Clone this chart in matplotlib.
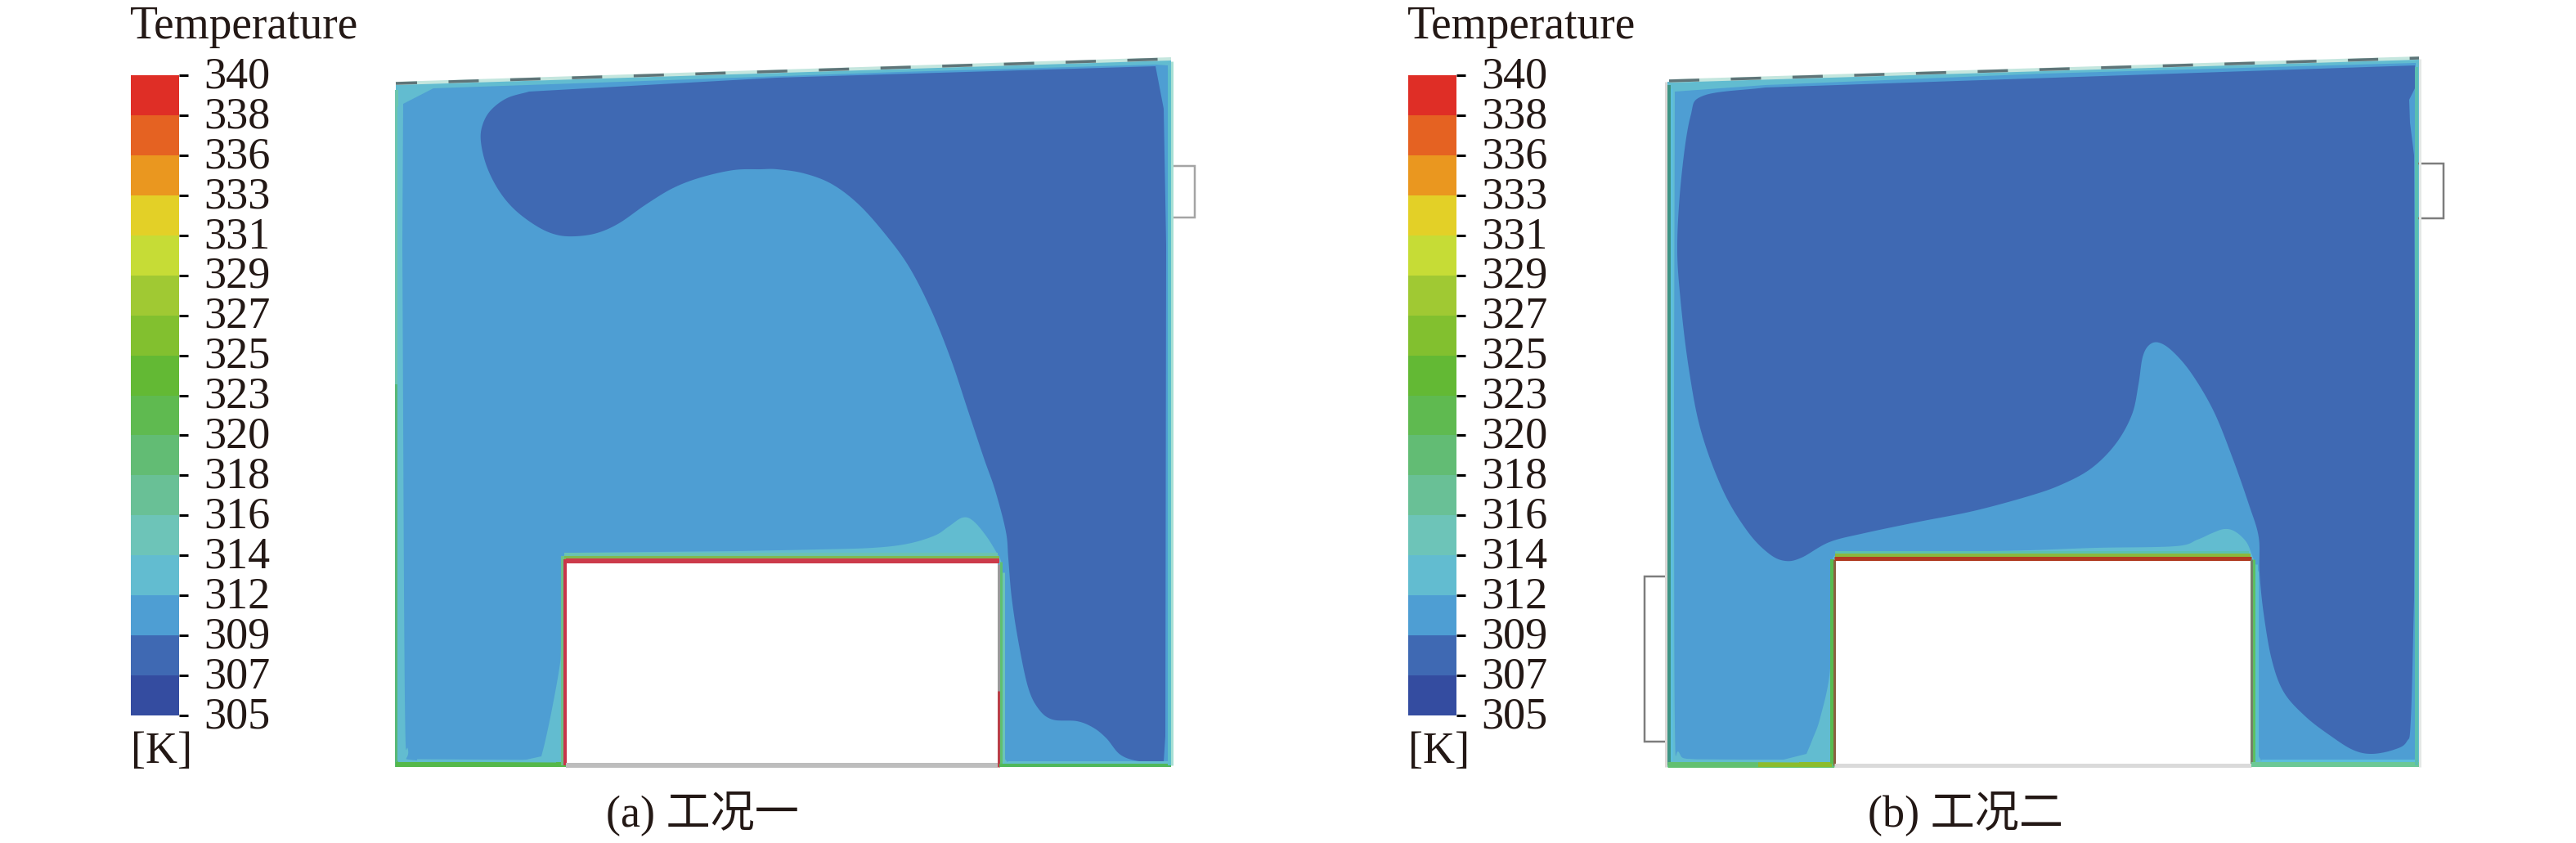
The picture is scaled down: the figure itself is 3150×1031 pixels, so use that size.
import numpy as np
import matplotlib
matplotlib.use("Agg")
import matplotlib.pyplot as plt
from matplotlib.patches import Polygon
from matplotlib.transforms import ScaledTranslation

W, H = 3150, 1031
plt.rcParams['lines.scale_dashes'] = False
SERIF = ['Liberation Serif', 'Noto Sans CJK SC', 'DejaVu Sans']
FS = 39

# ---------- colour scale ----------
level_labels = ['305','307','309','312','314','316','318','320','323','325','327','329','331','333','336','338','340']
band_colors = ['#344CA0','#3F69B3','#4E9ED3','#62BCD0','#6DC4B8','#69C096','#62BC74','#5FBA50',
               '#63B934','#82C02F','#A0C933','#C6DC36','#E3D027','#EA971F','#E56222','#DF2E26']
tick_shades = ['#aaaaaa','#dddddd','#555555','#aaaaaa','#555555','#dddddd','#777777','#cccccc',
               '#dddddd','#aaaaaa','#555555','#eeeeee','#777777','#999999','#444444','#bbbbbb','#cccccc']

# ---------- panel (a): outline and contour lines, picture pixels ----------
domain_a = [(484,103),(1432,73),(1432,938),(484,938)]
box_a = [(692,687),(1220,687),(1220,936),(692,936)]
mid_a = [(493,127),(530,108),(760,100),(1100,88),(1413,79),(1428,80),(1429,932),(1232,932),(1226,925),
         (1226,692),(1223,683)]
mid_a_mound = [(1223,683),(1207,657),(1190,637),(1177,633),(1160,644),(1143,655),(1110,665),(1067,670),(1000,672),(900,674)]
mid_a_tail = [(700,676),(690,679),(687,700),(686,790),(684,817),(675,867),(667,905),(662,925)]
mid_a_foot = [(630,932),(509,930),(499,917),(495,850),(492,300)]
cool_a_curve = [(647,112),(620,120),(600,135),(590,153),(588,173),(595,203),(610,233),(630,257),(657,277),(680,287),
                (703,289),(730,285),(757,273),(790,250),(823,230),(857,217),(897,208),(930,207),(950,207),(983,212),
                (1017,225),(1050,250),(1083,287),(1112,327),(1139,380),(1163,440),(1183,500),(1203,560),(1217,600),
                (1230,650),(1233,683),(1237,730),(1245,783),(1257,840),(1270,867),(1287,880),(1317,882),(1337,890),(1353,903),
                (1370,923),(1393,931),(1423,932)]
cool_a_close = [(1425,900),(1426,300),(1423,133),(1413,81),(950,95)]
port_a = [(1432,203),(1461,203),(1461,266),(1432,266)]

# ---------- panel (b) ----------
domain_b = [(2039,100),(2958,72),(2958,938),(2039,938)]
box_b = [(2243,684),(2753,684),(2753,936),(2243,936)]
mid_b = [(2048,112),(2159,104),(2500,90),(2918,78),(2954,77),(2954,930),(2765,930),(2762,925),(2762,700),(2755,682)]
mid_b_mound = [(2755,682),(2747,663),(2733,650),(2720,647),(2705,652),(2687,660),(2660,668),(2563,670),(2480,673),(2380,675)]
mid_b_tail = [(2250,678),(2241,684),(2239,720),(2238,817),(2226,877),(2216,905),(2209,922)]
mid_b_foot = [(2181,929),(2075,929),(2053,920),(2048,883),(2047,500)]
cool_b_curve = [(2159,107),(2083,117),(2067,143),(2056,217),(2051,300),(2055,367),(2065,450),(2080,527),(2107,600),
                (2137,650),(2163,677),(2183,686),(2203,682),(2237,663),(2280,652),(2347,638),(2413,625),(2480,607),
                (2520,593),(2557,573),(2587,543),(2607,507),(2615,470),(2620,437),(2628,422),(2640,419),(2657,430),
                (2680,457),(2707,503),(2730,560),(2750,617),(2762,657),(2763,700),(2768,750),(2778,807),(2793,847),
                (2820,877),(2850,900),(2877,917),(2900,922),(2927,917),(2943,907),(2948,880),(2952,733)]
cool_b_close = [(2953,400),(2952,190),(2947,150),(2946,122),(2953,108),(2953,80)]
port_b_top = [(2958,200),(2988,200),(2988,267),(2958,267)]
port_b_side = [(2039,705),(2011,705),(2011,907),(2039,907)]

# hot wall strips: x0, y0, x1, y1, colour, width in pixels
walls_a = [
 (485,110,485,470,'#6cc6ae',4),(485,470,485,938,'#58b878',4),(488,130,488,930,'#62BCD0',5),
 (484,935,692,935,'#55b84a',6),(510,930,680,931,'#62BCD0',3),
 (688,680,688,936,'#6cc08a',4),(691,684,691,936,'#c8354a',4),
 (690,678,1220,678,'#6cc3b0',4),(690,682,1222,682,'#7fb850',4),(692,686,1222,686,'#cc3a4a',6),
 (1221,690,1221,936,'#9a9a9a',3),(1224,687,1224,936,'#5fc070',3),(1227,700,1227,932,'#6cc3b8',3),
 (1221,845,1221,938,'#b84048',3),
 (692,936,1220,936,'#bdbdbd',6),(1222,936,1432,936,'#4fb85a',4),(1232,932,1430,932,'#62BCD0',3),
 (1430,85,1430,936,'#5cbecb',4),(1433,75,1433,936,'#a8e0d4',3),
]
walls_b = [
 (2037,100,2037,938,'#dcd8d6',3),(2041,104,2041,936,'#3d9484',4),(2044,108,2044,930,'#5cbedd',3),
 (2039,935,2243,935,'#62c070',7),(2150,935,2240,935,'#8cbc2c',6),(2060,930,2200,931,'#62BCD0',3),
 (2240,684,2240,934,'#58bb50',4),(2243,684,2243,936,'#8a6040',3),
 (2244,676,2750,676,'#5cc0b0',4),(2244,679,2752,679,'#8cb83c',4),(2243,683,2753,683,'#b03a20',5),
 (2753,684,2753,936,'#74806a',3),(2756,684,2756,936,'#5cc060',3),(2759,690,2759,930,'#5cbecb',3),
 (2243,936,2753,936,'#dadada',5),(2753,935,2958,935,'#6cc896',6),(2765,930,2953,930,'#5cbedd',3),
 (2955,82,2955,936,'#5abfb0',4),(2959,72,2959,938,'#e4e8e6',3),
]

# top glazing dash lines
dash_a = [(484,102),(1432,72)]
dash_b = [(2041,99),(2958,71)]

panels = [
 dict(lim=(470,1480,60,950), domain=domain_a, box=box_a, mid=[mid_a,mid_a_mound,mid_a_tail,mid_a_foot],
      cool=(cool_a_curve,cool_a_close), ports=[port_a], port_col='#a4a4a4', walls=walls_a, dash=dash_a, dash_off=11),
 dict(lim=(2000,3000,60,950), domain=domain_b, box=box_b, mid=[mid_b,mid_b_mound,mid_b_tail,mid_b_foot],
      cool=(cool_b_curve,cool_b_close), ports=[port_b_top,port_b_side], port_col='#7d7d7d', walls=walls_b, dash=dash_b, dash_off=0),
]
captions = [('(a) 工况一', 859), ('(b) 工况二', 2403)]
colorbar_lefts = [160, 1722]


def smooth(pts, n=12):
    """Catmull-Rom through the listed points, only to round the drawn outline."""
    p = np.array(pts, float)
    q = np.vstack([2*p[0]-p[1], p, 2*p[-1]-p[-2]])
    out = []
    t = np.linspace(0, 1, n, endpoint=False)[:, None]
    for i in range(1, len(q)-2):
        a, b, c, d = q[i-1], q[i], q[i+1], q[i+2]
        out.append(0.5*(2*b+(c-a)*t+(2*a-5*b+4*c-d)*t**2+(3*b-a-3*c+d)*t**3))
    out.append(p[-1:])
    return np.vstack(out)


def axes_px(x0, x1, y0, y1):
    return fig.add_axes([x0/W, 1-y1/H, (x1-x0)/W, (y1-y0)/H])


fig = plt.figure(figsize=(W/100, H/100), dpi=100, facecolor='white')
px = 0.72

for p in panels:
    x0, x1, y0, y1 = p['lim']
    ax = axes_px(x0, x1, y0, y1)
    ax.set_xlim(x0, x1)
    ax.set_ylim(y1, y0)
    ax.axis('off')
    ax.add_patch(Polygon(p['domain'], fc='#62BCD0', ec='none', zorder=1))
    m = p['mid']
    mid_pts = np.vstack([np.array(m[0], float), smooth(m[1]), smooth(m[2]), smooth(m[3])])
    ax.add_patch(Polygon(mid_pts, fc='#4E9ED3', ec='none', zorder=2))
    cool_pts = np.vstack([smooth(p['cool'][0]), np.array(p['cool'][1], float)])
    ax.add_patch(Polygon(cool_pts, fc='#3F69B3', ec='none', zorder=3))
    ax.add_patch(Polygon(p['box'], fc='white', ec='none', zorder=4))
    for (xa, ya, xb, yb, c, w) in p['walls']:
        ax.plot([xa, xb], [ya, yb], color=c, lw=w*px, solid_capstyle='butt', zorder=5)
    for port in p['ports']:
        xs, ys = zip(*port)
        ax.plot(xs, ys, color=p['port_col'], lw=2.5*px, zorder=1, solid_joinstyle='miter')
    xs, ys = zip(*p['dash'])
    ax.plot(xs, ys, color='#c4e6de', lw=4*px, solid_capstyle='butt', zorder=6)
    ax.plot(xs, ys, color='#5f7478', lw=3.5*px, zorder=7, dash_capstyle='butt',
            linestyle=(p['dash_off']*px, (37*px, 38.5*px)))

label_shift = ScaledTranslation(0, 4/100, fig.dpi_scale_trans)
for left in colorbar_lefts:
    cb = axes_px(left, left+59, 92, 875)
    y = np.arange(len(level_labels))
    cb.pcolormesh([0, 1], y, np.arange(len(band_colors))[:, None],
                  cmap=matplotlib.colors.ListedColormap(band_colors), shading='flat',
                  vmin=-0.5, vmax=len(band_colors)-0.5)
    cb.set_xlim(0, 1)
    cb.set_ylim(0, len(level_labels)-1)
    cb.set_xticks([])
    cb.yaxis.tick_right()
    cb.set_yticks(y, level_labels, family=SERIF, fontsize=FS, color='#231815')
    cb.tick_params(axis='y', length=8, width=2.2, pad=14)
    for t, c in zip(cb.yaxis.get_major_ticks(), tick_shades):
        t.tick2line.set_color(c)
    for lab in cb.get_yticklabels():
        lab.set_transform(lab.get_transform() + label_shift)
    for s in cb.spines.values():
        s.set_visible(False)
    fig.text((left-1)/W, 1-33/H, 'Temperature', family=SERIF, fontsize=40, color='#231815', va='center', ha='left')
    fig.text((left)/W, 1-920/H, '[K]', family=SERIF, fontsize=FS, color='#231815', va='center', ha='left')

for text, xc in captions:
    fig.text(xc/W, 1-995/H, text, family=SERIF, fontsize=FS, color='#231815', va='center', ha='center')

fig.savefig('out.png', dpi=100, facecolor='white')
